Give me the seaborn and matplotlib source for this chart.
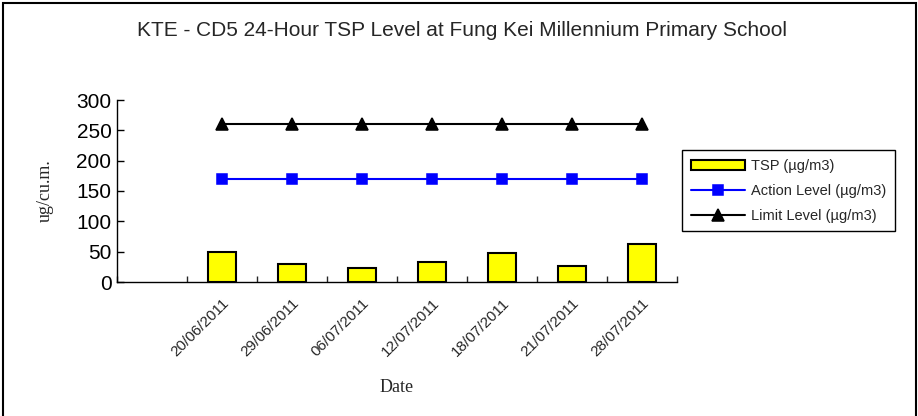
import numpy as np
import matplotlib
matplotlib.use('Agg')
import matplotlib.pyplot as plt
from matplotlib.patches import Rectangle
import seaborn as sns

dates = ['20/06/2011', '29/06/2011', '06/07/2011', '12/07/2011',
         '18/07/2011', '21/07/2011', '28/07/2011']
tsp = [49, 30, 23, 33, 47, 27, 63]
action_level = [169] * 7
limit_level = [260] * 7
order = [''] + dates

sns.set_theme(style='white')
plt.rcParams['font.family'] = ['Liberation Sans', 'DejaVu Sans']

fig = plt.figure(figsize=(9.18, 4.16), dpi=100)
ax = fig.add_axes([117 / 918, 1 - 282 / 416, 560 / 918, 182 / 416])

sns.barplot(x=dates, y=tsp, order=order, color='#ffff00', edgecolor='black',
            linewidth=1.5, width=0.4, saturation=1, label='TSP (µg/m3)', ax=ax)
sns.pointplot(x=dates, y=action_level, order=order, color='#0000ff',
              marker='s', markersize=7, linewidth=1.5,
              label='Action Level (µg/m3)', ax=ax)
sns.pointplot(x=dates, y=limit_level, order=order, color='black',
              marker='^', markersize=9, linewidth=1.5,
              label='Limit Level (µg/m3)', ax=ax)

ax.set_xlim(-0.5, len(order) - 0.5)
ax.set_ylim(0, 300)
ax.set_yticks(np.arange(0, 301, 50))
ax.tick_params(axis='y', labelsize=15, direction='in', length=5, width=1,
               left=True, pad=4, colors='black')
ax.set_xticks(np.arange(len(order)))
ax.set_xticklabels(order, rotation=45, ha='right', rotation_mode='anchor',
                   fontsize=11)
ax.set_xticks(np.arange(len(order) + 1) - 0.5, minor=True)
ax.tick_params(axis='x', which='major', length=0, pad=10)
ax.tick_params(axis='x', which='minor', direction='in', length=4, width=1,
               bottom=True)
for s in ['top', 'right']:
    ax.spines[s].set_visible(False)
for s in ['left', 'bottom']:
    ax.spines[s].set_color('black')
    ax.spines[s].set_linewidth(1)
ax.set_xlabel('')
ax.set_ylabel('')

fig.text(45 / 918, 1 - 191 / 416, 'ug/cu.m.', rotation=90, ha='center',
         va='center', fontsize=13, family=['Liberation Serif'])
fig.text(397 / 918, 1 - 388 / 416, 'Date', ha='center', va='center',
         fontsize=13, family=['Liberation Serif'])
fig.text(462 / 918, 1 - 30 / 416,
         'KTE - CD5 24-Hour TSP Level at Fung Kei Millennium Primary School',
         ha='center', va='center', fontsize=15)

handles, labels = ax.get_legend_handles_labels()
idx = [labels.index(l) for l in ['TSP (µg/m3)', 'Action Level (µg/m3)',
                                 'Limit Level (µg/m3)']]
leg = ax.legend([handles[i] for i in idx], [labels[i] for i in idx],
                loc='upper left', bbox_to_anchor=(682 / 918, 1 - 150 / 416),
                bbox_transform=fig.transFigure, borderaxespad=0,
                fancybox=False, edgecolor='black', framealpha=1,
                fontsize=10.5, handlelength=3.7, handletextpad=0.4,
                labelspacing=0.75, borderpad=0.6)
leg.get_frame().set_linewidth(1)

fig.patches.append(Rectangle((3 / 918, -0.02), 913 / 918, 1.013, fill=False,
                             edgecolor='black', linewidth=1.5,
                             transform=fig.transFigure, figure=fig))

fig.savefig('out.png', dpi=100)
